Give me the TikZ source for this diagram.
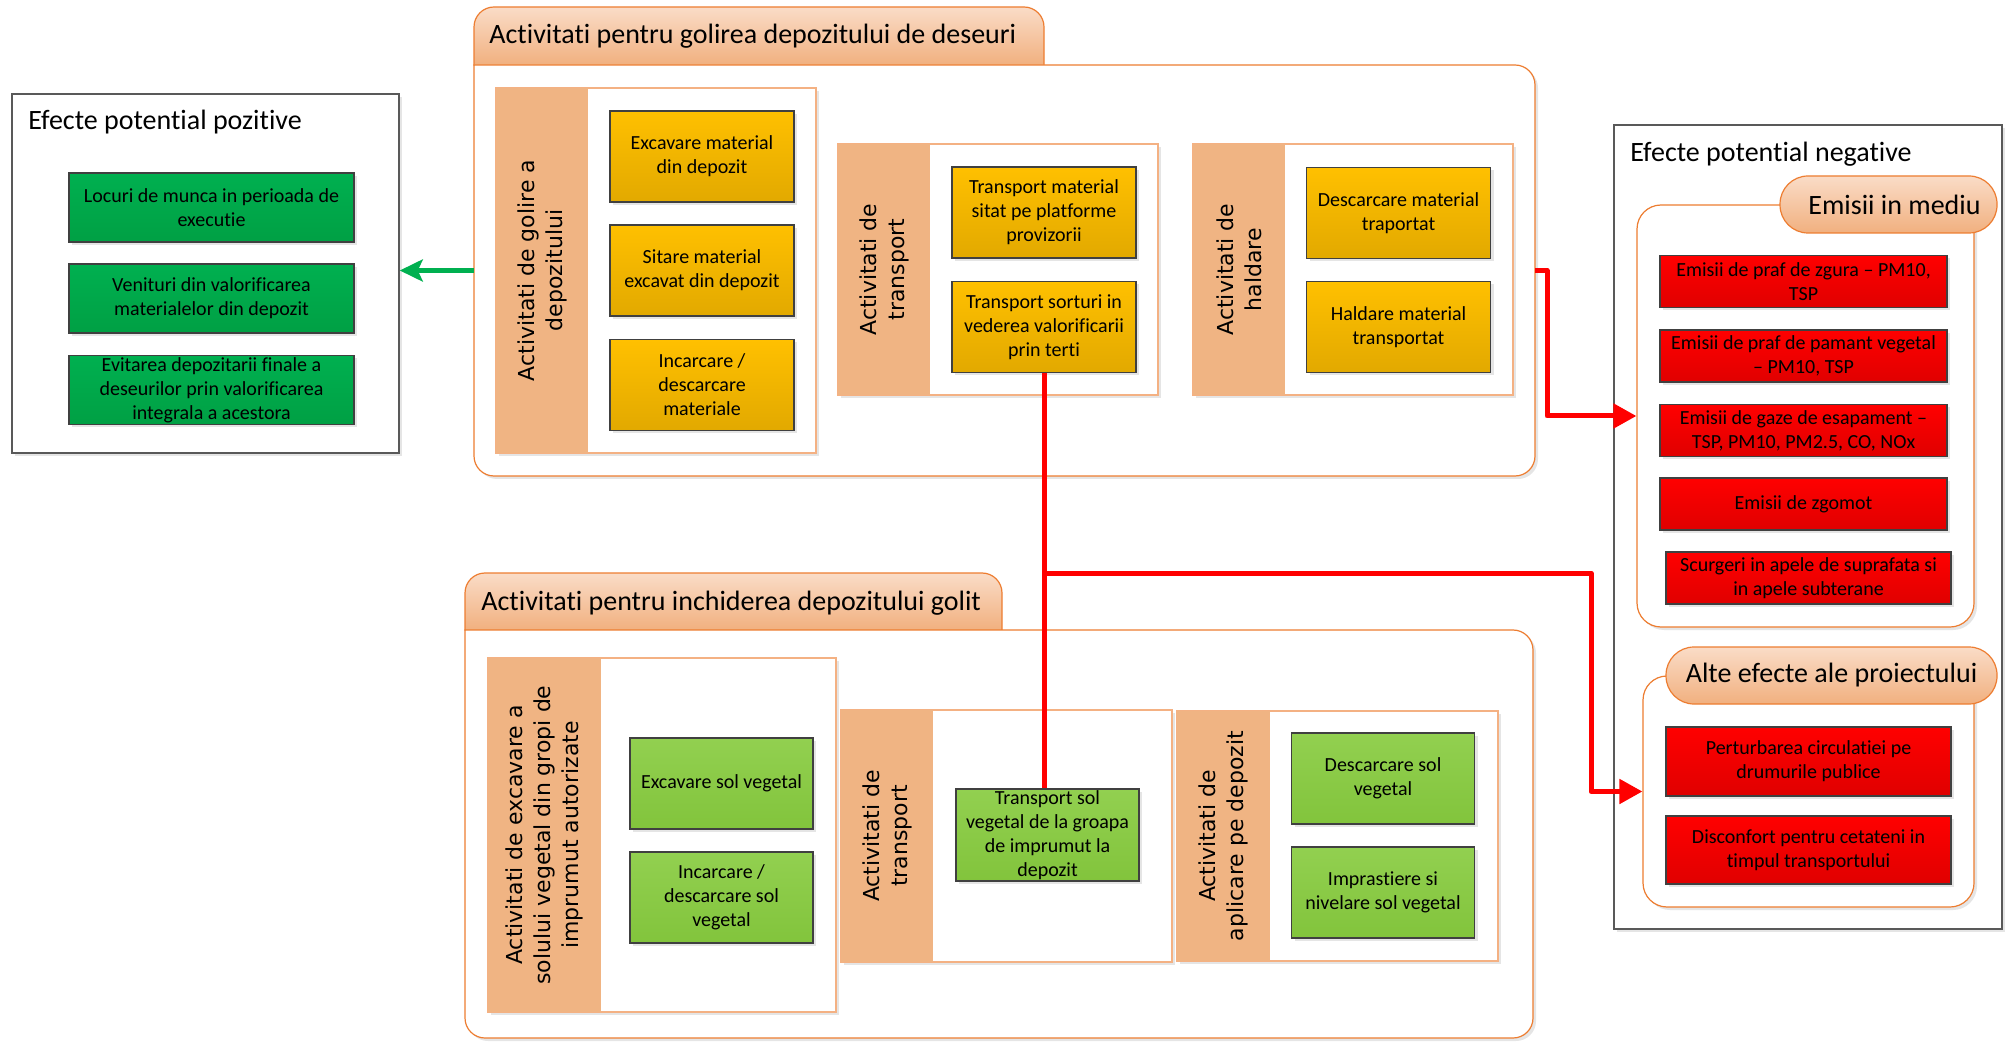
\documentclass[tikz,border=0pt]{standalone}
\usepackage{xcolor}
\usepackage{fontspec}
\setmainfont{Carlito}[Ligatures=NoCommon]
\newfontfamily\vertfont{DejaVu Sans}
\usepackage{tikz}
\usetikzlibrary{shadows,arrows.meta}

\definecolor{grporange}{HTML}{ED7D31}
\definecolor{frameorange}{HTML}{F4B183}
\definecolor{barsalmon}{HTML}{F0B483}
\definecolor{tabtop}{HTML}{FADCC7}
\definecolor{tabbot}{HTML}{F1B07F}
\definecolor{yeltop}{HTML}{FFC000}
\definecolor{yelbot}{HTML}{E2A900}
\definecolor{redtop}{HTML}{FF0000}
\definecolor{redbot}{HTML}{E00000}
\definecolor{dgrtop}{HTML}{00B050}
\definecolor{dgrbot}{HTML}{00A044}
\definecolor{lgrtop}{HTML}{92D050}
\definecolor{lgrbot}{HTML}{82C43C}
\definecolor{boxline}{HTML}{404040}
\definecolor{arrowgreen}{HTML}{00B050}

\tikzset{
  softshadow/.style={drop shadow={shadow xshift=1.5pt,shadow yshift=-1.5pt,fill=black!10,opacity=1}},
  box/.style={draw=boxline, line width=0.75pt, align=center, inner sep=0pt,
    font=\fontsize{10}{12}\selectfont, softshadow},
  ybox/.style={box, top color=yeltop, bottom color=yelbot, minimum width=92pt, minimum height=45.5pt},
  lbox/.style={box, top color=lgrtop, bottom color=lgrbot, minimum width=91.5pt, minimum height=45.5pt},
  gbox/.style={box, top color=dgrtop, bottom color=dgrbot, minimum width=142.5pt, minimum height=34.5pt},
  rbox/.style={box, top color=redtop, bottom color=redbot, minimum width=143.5pt, minimum height=26pt},
  outerbox/.style={draw=black!65, line width=0.75pt, fill=white, softshadow},
  titletext/.style={font=\fontsize{14}{16}\selectfont, inner sep=0pt},
  grpline/.style={draw=grporange, line width=0.6pt, line cap=rect},
  subframe/.style={draw=frameorange, line width=0.6pt, fill=white, softshadow, inner sep=0pt},
  subbar/.style={fill=barsalmon, rotate=90, inner sep=0pt, align=center,
    font=\vertfont\fontsize{11}{14}\selectfont},
  effgroup/.style={draw=grporange, line width=0.6pt, fill=white, rounded corners=12pt, softshadow},
  pill/.style={draw=grporange, line width=0.6pt, rounded corners=14pt, top color=tabtop,
    bottom color=tabbot, minimum height=28.5pt, titletext},
  redline/.style={red, line width=2.5pt, line join=round},
  redarrow/.style={redline, -{Triangle[length=11.5pt,width=12pt]}},
  greenarrow/.style={arrowgreen, line width=2.25pt, -{Stealth[length=11.5pt,width=11pt,inset=2.5pt]}}
}

\begin{document}
\begin{tikzpicture}[x=0.5pt,y=-0.5pt]
\useasboundingbox (0,0) rectangle (2011,1042);

% efecte pozitive
\node[outerbox, minimum width=193.5pt, minimum height=179.5pt] (pozitive) at (205.5,273.5) {};
\node[titletext, anchor=base west] (poztitle) at (28,130) {Efecte potential pozitive};
\node[gbox] (locuri) at (211.5,207.5) {Locuri de munca in perioada de\\executie};
\node[gbox] (venituri) at (211.5,298.5) {Venituri din valorificarea\\materialelor din depozit};
\node[gbox] (evitarea) at (211.5,390) {Evitarea depozitarii finale a\\deseurilor prin valorificarea\\integrala a acestora};

% golirea depozitului
\draw[grpline, top color=tabtop, bottom color=tabbot, rounded corners=10pt] (474,65) -- (474,7) -- (1044,7) -- (1044,65);
\draw[grpline, fill=white, softshadow, rounded corners=10pt] (474,65) -- (1535,65) -- (1535,476) -- (474,476) -- (474,65);
\node[titletext, anchor=base west] (goltitle) at (489,44) {Activitati pentru golirea depozitului de deseuri};
\coordinate (golW) at (474,270.5);
\coordinate (golE) at (1535,270.5);

\node[subframe, minimum width=160pt, minimum height=182.5pt] (golfr) at (656,270.5) {};
\node[subbar, minimum width=182.5pt, minimum height=46pt] (golbar) at (542,270.5) {Activitati de golire a\\depozitului};
\node[ybox] (excmat) at (702,156.5) {Excavare material\\din depozit};
\node[ybox] (sitare) at (702,270.5) {Sitare material\\excavat din depozit};
\node[ybox] (incmat) at (702,385) {Incarcare /\\descarcare\\materiale};

\node[subframe, minimum width=160pt, minimum height=125.5pt] (trfr) at (998,269.5) {};
\node[subbar, minimum width=125.5pt, minimum height=46pt] (trbar) at (884,269.5) {Activitati de\\transport};
\node[ybox] (tmat) at (1044,212.5) {Transport material\\sitat pe platforme\\provizorii};
\node[ybox] (tsort) at (1044,327) {Transport sorturi in\\vederea valorificarii\\prin terti};

\node[subframe, minimum width=160pt, minimum height=125.5pt] (halfr) at (1353,269.5) {};
\node[subbar, minimum width=125.5pt, minimum height=46pt] (halbar) at (1239,269.5) {Activitati de\\haldare};
\node[ybox] (descmat) at (1398.5,213) {Descarcare material\\traportat};
\node[ybox] (haldmat) at (1398.5,327) {Haldare material\\transportat};

% inchiderea depozitului
\draw[grpline, top color=tabtop, bottom color=tabbot, rounded corners=10pt] (465,630) -- (465,573) -- (1002,573) -- (1002,630);
\draw[grpline, fill=white, softshadow, rounded corners=10pt] (465,630) -- (1533,630) -- (1533,1038) -- (465,1038) -- (465,630);
\node[titletext, anchor=base west] (inchtitle) at (481,610) {Activitati pentru inchiderea depozitului golit};

\node[subframe, minimum width=174pt, minimum height=177pt] (excfr) at (662,835) {};
\node[subbar, minimum width=177pt, minimum height=56.5pt] (excbar) at (544.5,835) {Activitati de excavare a\\solului vegetal din gropi de\\imprumut autorizate};
\node[lbox] (excsol) at (721.5,783.5) {Excavare sol vegetal};
\node[lbox] (incsol) at (721.5,897.5) {Incarcare /\\descarcare sol\\vegetal};

\node[subframe, minimum width=165.5pt, minimum height=126pt] (tsfr) at (1006.5,836) {};
\node[subbar, minimum width=126pt, minimum height=46pt] (tsbar) at (887,836) {Activitati de\\transport};
\node[lbox, minimum height=46pt] (tsolb) at (1047.5,835) {Transport sol\\vegetal de la groapa\\de imprumut la\\depozit};

\node[subframe, minimum width=160.5pt, minimum height=125pt] (aplfr) at (1337.5,836) {};
\node[subbar, minimum width=125pt, minimum height=46.5pt] (aplbar) at (1223.5,836) {Activitati de\\aplicare pe depozit};
\node[lbox] (descsol) at (1383,778.5) {Descarcare sol\\vegetal};
\node[lbox] (imprsol) at (1383,892.5) {Imprastiere si\\nivelare sol vegetal};

% efecte negative
\node[outerbox, minimum width=194pt, minimum height=402pt] (negative) at (1808,527) {};
\node[titletext, anchor=base west] (negtitle) at (1630,162) {Efecte potential negative};

\node[effgroup, minimum width=168.5pt, minimum height=211pt] (emisii) at (1805.5,416) {};
\node[pill, minimum width=108.5pt] (emtitle) at (1888.5,204.5) {\hspace{6pt}Emisii in mediu};
\node[rbox] (zgura) at (1803.5,281.5) {Emisii de praf de zgura -- PM10,\\TSP};
\node[rbox] (pamant) at (1803.5,356) {Emisii de praf de pamant vegetal\\-- PM10, TSP};
\node[rbox] (gaze) at (1803.5,430.5) {Emisii de gaze de esapament --\\TSP, PM10, PM2.5, CO, NOx};
\node[rbox] (zgomot) at (1803.5,504) {Emisii de zgomot};
\node[rbox, minimum width=142.5pt] (scurgeri) at (1808.5,578) {Scurgeri in apele de suprafata si\\in apele subterane};

\node[effgroup, minimum width=165.5pt, minimum height=115.5pt] (alte) at (1808.5,791.5) {};
\node[pill, minimum width=165.5pt] (altetitle) at (1831.5,675.5) {Alte efecte ale proiectului};
\node[rbox, minimum width=142.5pt, minimum height=34.5pt] (perturb) at (1808.5,761.5) {Perturbarea circulatiei pe\\drumurile publice};
\node[rbox, minimum width=142.5pt, minimum height=34pt] (disconf) at (1808.5,850) {Disconfort pentru cetateni in\\timpul transportului};

% legaturi
\draw[greenarrow] (golW) -- (golW -| pozitive.east);
\draw[redarrow] (golE) -- ++(12,0) |- (emisii.west);
\coordinate (jn) at (1044,573);
\coordinate (jnright) at (1591,573);
\draw[redline] (tsort.south) -- (tsort.south |- tsolb.north);
\draw[redarrow] (jn) -- (jnright) |- (alte.west);
\end{tikzpicture}
\end{document}
